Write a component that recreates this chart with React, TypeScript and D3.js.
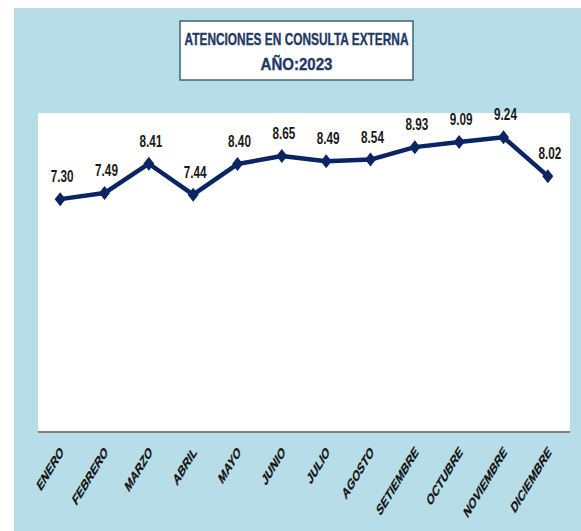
import React, { useEffect, useRef } from 'react';
import * as d3 from 'd3';

const months = [
  'ENERO', 'FEBRERO', 'MARZO', 'ABRIL', 'MAYO', 'JUNIO',
  'JULIO', 'AGOSTO', 'SETIEMBRE', 'OCTUBRE', 'NOVIEMBRE', 'DICIEMBRE',
];
const values = [7.3, 7.49, 8.41, 7.44, 8.4, 8.65, 8.49, 8.54, 8.93, 9.09, 9.24, 8.02];
const titleLines = ['ATENCIONES EN CONSULTA EXTERNA', 'AÑO:2023'];

const FONT = '"Liberation Sans", Arial, sans-serif';
const NAVY = '#0b2463';

const App = () => {
  const svgRef = useRef<SVGSVGElement>(null);

  useEffect(() => {
    const width = 581;
    const height = 531;
    const plot = { left: 38, right: 570, top: 113, bottom: 432 };

    const svg = d3.select(svgRef.current).attr('width', width).attr('height', height);
    svg.selectAll('*').remove();

    // outer chart area
    svg.append('rect').attr('x', 14).attr('y', 8).attr('width', width - 14).attr('height', height - 8)
      .attr('fill', '#b7dee8');

    // title box
    svg.append('rect').attr('x', 180).attr('y', 21).attr('width', 233).attr('height', 59)
      .attr('fill', '#fff').attr('stroke', '#3d6673').attr('stroke-width', 1.5);
    svg.selectAll('text.title')
      .data(titleLines)
      .join('text')
      .attr('class', 'title')
      .attr('transform', (d, i) => `translate(296.5,${44.5 + i * 25}) scale(1,1.22)`)
      .attr('text-anchor', 'middle')
      .attr('font-family', FONT)
      .attr('font-weight', 'bold')
      .attr('font-size', 14)
      .attr('fill', '#1f3864')
      .attr('stroke', '#1f3864')
      .attr('stroke-width', 0.3)
      .attr('textLength', (d, i) => (i === 0 ? 224 : 72))
      .attr('lengthAdjust', 'spacingAndGlyphs')
      .text(d => d);

    // plot area
    svg.append('rect').attr('x', plot.left).attr('y', plot.top)
      .attr('width', plot.right - plot.left).attr('height', plot.bottom - plot.top)
      .attr('fill', '#fff');

    const x = d3.scaleBand().domain(months).range([plot.left, plot.right]);
    const y = d3.scaleLinear().domain([0, 10]).range([plot.bottom, plot.top]);
    const cx = (m: string) => (x(m) as number) + x.bandwidth() / 2;

    // x axis line
    svg.append('line').attr('x1', plot.left).attr('x2', plot.right)
      .attr('y1', plot.bottom).attr('y2', plot.bottom)
      .attr('stroke', '#808080').attr('stroke-width', 2);

    svg.selectAll('text.month')
      .data(months)
      .join('text')
      .attr('class', 'month')
      .attr('transform', d => `translate(${cx(d) + 4},${plot.bottom + 21}) scale(0.85,1.4) rotate(-45)`)
      .attr('text-anchor', 'end')
      .attr('font-family', FONT)
      .attr('font-weight', 'bold')
      .attr('font-size', 11)
      .attr('fill', '#111')
      .attr('stroke', '#111')
      .attr('stroke-width', 0.25)
      .text(d => d);

    const pts = months.map((m, i) => ({ m, v: values[i] }));

    const line = d3.line<{ m: string; v: number }>().x(d => cx(d.m)).y(d => y(d.v));
    svg.append('path').datum(pts)
      .attr('d', line)
      .attr('fill', 'none')
      .attr('stroke', NAVY)
      .attr('stroke-width', 4.5)
      .attr('stroke-linejoin', 'round');

    svg.selectAll('path.marker')
      .data(pts)
      .join('path')
      .attr('class', 'marker')
      .attr('d', 'M0,-7L5.5,0L0,7L-5.5,0Z')
      .attr('transform', d => `translate(${cx(d.m)},${y(d.v)})`)
      .attr('fill', NAVY);

    svg.selectAll('text.value')
      .data(pts)
      .join('text')
      .attr('class', 'value')
      .attr('transform', d => `translate(${cx(d.m) + 2},${y(d.v) - 17}) scale(0.84,1.15)`)
      .attr('text-anchor', 'middle')
      .attr('font-family', FONT)
      .attr('font-weight', 'bold')
      .attr('font-size', 14)
      .attr('fill', '#1a1a1a')
      .text(d => d.v.toFixed(2));
  }, []);

  return (
    <div style={{ position: 'absolute', left: 0, top: 0 }}>
      <svg ref={svgRef} style={{ display: 'block' }}></svg>
    </div>
  );
};

export default App;
